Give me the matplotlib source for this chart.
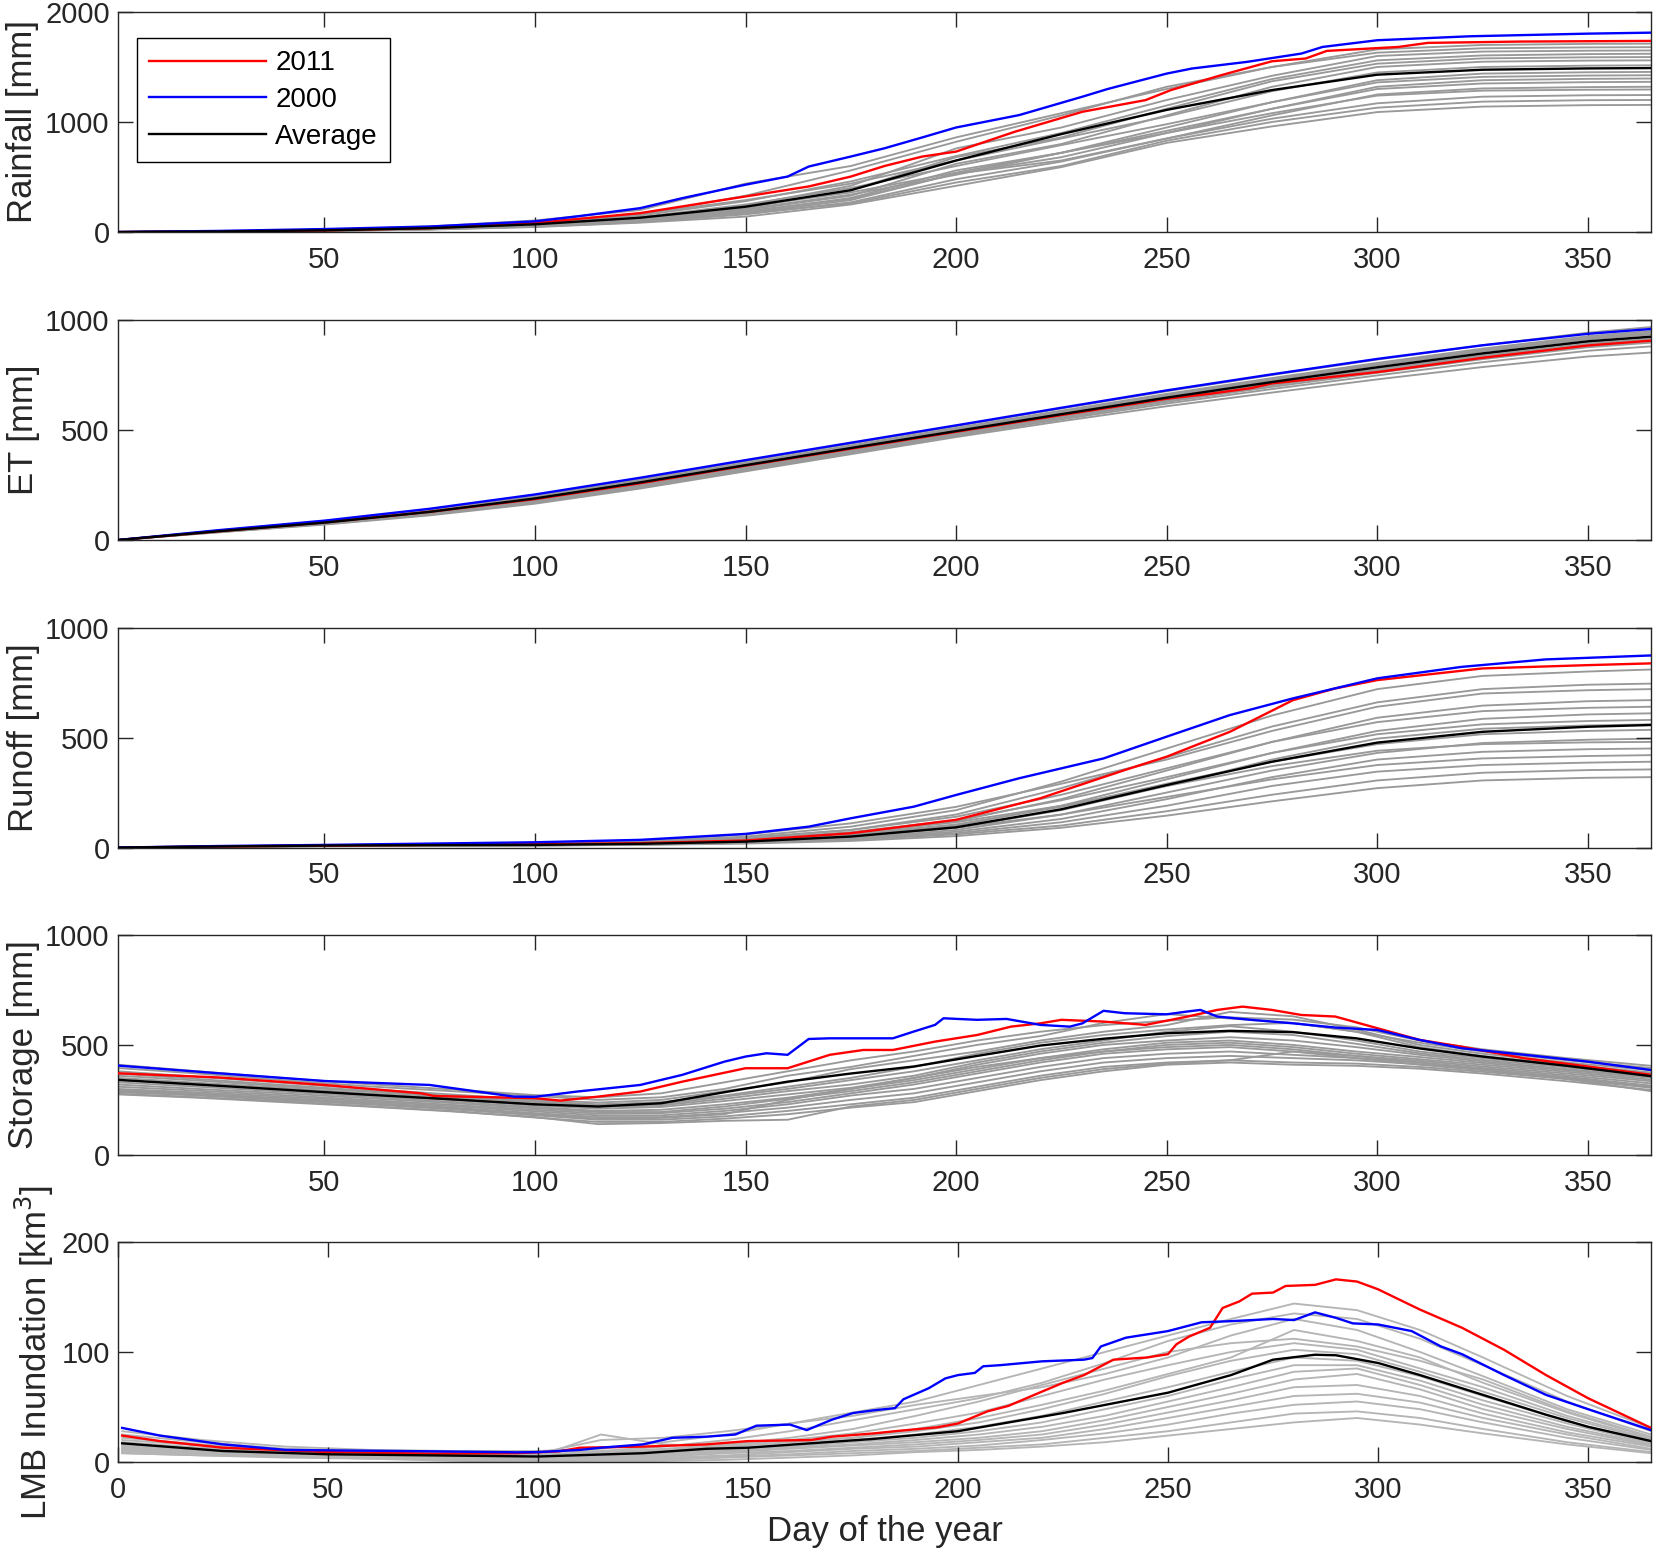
import matplotlib
matplotlib.use('Agg')
import matplotlib.pyplot as plt

plt.rcParams['font.family'] = ['Liberation Sans', 'DejaVu Sans']

# sample days for the gray (other years) curves
days_g = [1, 25, 50, 75, 100, 125, 150, 175, 200, 225, 250, 275, 300, 325, 350, 365]
days_s = [1, 20, 40, 60, 80, 100, 115, 130, 145, 160, 175, 190, 205, 220, 235, 250, 265, 280, 295, 310, 325, 345, 365]

# ---------------- Rainfall ----------------
rain_gray = [
    [0, 8, 22, 50, 105, 200, 440, 600, 860, 1080, 1300, 1500, 1660, 1700, 1710, 1712],
    [0, 5, 18, 40, 85, 160, 330, 560, 820, 1060, 1320, 1500, 1630, 1670, 1678, 1680],
    [0, 6, 15, 35, 70, 130, 240, 420, 760, 950, 1200, 1420, 1600, 1640, 1648, 1650],
    [0, 4, 12, 30, 80, 150, 280, 460, 690, 900, 1150, 1390, 1560, 1605, 1617, 1620],
    [0, 6, 18, 38, 65, 120, 220, 380, 680, 860, 1120, 1370, 1530, 1578, 1588, 1590],
    [0, 5, 14, 32, 60, 110, 200, 330, 620, 800, 1060, 1320, 1500, 1548, 1558, 1560],
    [0, 7, 20, 42, 90, 165, 290, 440, 650, 850, 1050, 1280, 1450, 1500, 1512, 1515],
    [0, 4, 12, 28, 55, 100, 180, 310, 560, 720, 950, 1180, 1380, 1440, 1452, 1455],
    [0, 5, 15, 35, 70, 135, 250, 400, 600, 790, 980, 1180, 1360, 1410, 1422, 1425],
    [0, 3, 10, 25, 50, 95, 170, 290, 530, 680, 900, 1120, 1320, 1380, 1392, 1395],
    [0, 5, 14, 32, 62, 115, 210, 340, 520, 720, 920, 1120, 1300, 1350, 1362, 1365],
    [0, 4, 12, 28, 58, 105, 190, 300, 530, 650, 850, 1060, 1250, 1305, 1317, 1320],
    [0, 6, 16, 36, 72, 130, 230, 360, 540, 720, 900, 1080, 1240, 1285, 1293, 1295],
    [0, 3, 10, 24, 48, 90, 160, 270, 480, 640, 850, 1030, 1170, 1230, 1243, 1245],
    [0, 4, 12, 26, 52, 95, 170, 260, 450, 600, 830, 1000, 1130, 1185, 1198, 1200],
    [0, 3, 9, 22, 45, 85, 140, 250, 420, 590, 810, 960, 1090, 1140, 1153, 1155],
]
rain_avg = [0, 5, 15, 35, 70, 130, 230, 380, 650, 890, 1110, 1290, 1430, 1475, 1487, 1490]
rain_2000_d = [1, 25, 50, 75, 100, 110, 125, 135, 150, 160, 165, 175, 183, 192, 200, 215, 230, 236, 250,
               256, 269, 282, 287, 300, 322, 350, 365]
rain_2000 = [0, 10, 27, 50, 97, 142, 217, 308, 430, 504, 595, 686, 761, 860, 950, 1063, 1230, 1300, 1440,
             1486, 1546, 1622, 1682, 1743, 1779, 1803, 1812]
rain_2011_d = [1, 25, 50, 75, 100, 125, 140, 150, 165, 175, 183, 192, 200, 214, 230, 245, 251, 263, 275,
               283, 288, 305, 312, 334, 365]
rain_2011 = [0, 5, 15, 35, 82, 172, 263, 323, 414, 504, 600, 686, 731, 912, 1093, 1199, 1290, 1426, 1552,
             1577, 1646, 1682, 1719, 1731, 1737]

# ---------------- ET ----------------
et_gray = [
    [0, 44, 86, 138, 202, 278, 358, 438, 518, 598, 676, 750, 820, 885, 942, 968],
    [0, 42, 83, 134, 197, 272, 350, 430, 510, 588, 664, 736, 805, 870, 926, 950],
    [0, 41, 81, 130, 192, 266, 345, 424, 502, 580, 656, 728, 796, 860, 915, 938],
    [0, 39, 77, 124, 184, 256, 334, 412, 490, 566, 640, 710, 776, 838, 892, 914],
    [0, 38, 75, 120, 178, 250, 328, 406, 484, 560, 634, 703, 768, 830, 884, 905],
    [0, 36, 72, 115, 172, 244, 322, 400, 478, 554, 628, 696, 760, 822, 876, 897],
    [0, 37, 74, 118, 170, 238, 316, 396, 474, 548, 620, 686, 748, 808, 860, 880],
    [0, 35, 70, 112, 165, 234, 312, 390, 468, 540, 608, 670, 730, 786, 834, 852],
    [0, 40, 80, 129, 190, 264, 343, 421, 500, 578, 654, 726, 794, 857, 912, 934],
    [0, 39, 78, 126, 186, 259, 337, 415, 493, 570, 645, 716, 783, 846, 900, 922],
    [0, 43, 84, 135, 198, 270, 348, 426, 504, 582, 660, 732, 800, 864, 920, 943],
    [0, 38, 76, 122, 181, 253, 331, 410, 488, 564, 638, 708, 774, 836, 890, 912],
]
et_avg = [0, 40, 79, 128, 189, 262, 340, 418, 495, 572, 647, 718, 785, 848, 903, 924]
et_2000_d = days_g
et_2000 = [0, 45, 88, 142, 207, 283, 363, 442, 521, 601, 680, 753, 823, 885, 937, 959]
et_2011_d = [1, 25, 50, 75, 100, 125, 150, 175, 200, 225, 250, 260, 270, 275, 300, 325, 350, 365]
et_2011 = [0, 40, 80, 128, 186, 258, 338, 415, 492, 568, 642, 664, 690, 712, 763, 828, 884, 906]

# ---------------- Runoff ----------------
ro_gray = [
    [0, 5, 10, 14, 18, 28, 50, 95, 170, 300, 450, 600, 720, 780, 800, 809],
    [0, 5, 10, 13, 16, 24, 42, 80, 150, 270, 410, 550, 660, 720, 740, 745],
    [0, 6, 11, 15, 20, 32, 60, 110, 185, 290, 400, 530, 640, 700, 715, 720],
    [0, 4, 8, 11, 13, 20, 35, 65, 120, 220, 350, 480, 590, 645, 665, 670],
    [0, 5, 9, 12, 15, 25, 45, 80, 140, 240, 360, 480, 570, 620, 635, 640],
    [0, 4, 8, 10, 12, 18, 30, 55, 100, 190, 310, 430, 530, 585, 605, 610],
    [0, 5, 9, 12, 14, 22, 38, 70, 125, 215, 320, 430, 515, 560, 575, 580],
    [0, 4, 8, 10, 11, 16, 26, 48, 90, 170, 280, 400, 495, 540, 555, 560],
    [0, 5, 9, 11, 13, 20, 34, 60, 105, 185, 290, 390, 470, 515, 530, 535],
    [0, 4, 7, 9, 11, 15, 24, 42, 80, 150, 250, 350, 430, 475, 490, 495],
    [0, 5, 9, 12, 14, 21, 36, 65, 115, 190, 280, 370, 440, 470, 478, 480],
    [0, 4, 7, 9, 10, 14, 22, 40, 72, 130, 220, 320, 400, 435, 447, 450],
    [0, 4, 8, 10, 12, 18, 30, 52, 90, 150, 230, 310, 375, 405, 416, 420],
    [0, 4, 7, 9, 10, 14, 22, 38, 65, 115, 190, 280, 345, 375, 386, 390],
    [0, 3, 6, 8, 9, 13, 20, 35, 60, 100, 165, 240, 305, 340, 352, 355],
    [0, 3, 6, 8, 9, 12, 18, 30, 52, 90, 145, 210, 270, 305, 317, 320],
]
ro_avg = [0, 5, 9, 11, 12, 17, 27, 50, 92, 174, 284, 390, 477, 526, 549, 557]
ro_2000_d = [1, 25, 50, 75, 100, 125, 150, 165, 175, 190, 200, 215, 235, 250, 265, 280, 300, 320, 340, 365]
ro_2000 = [0, 7, 12, 18, 24, 35, 62, 95, 133, 186, 239, 315, 405, 504, 602, 678, 769, 821, 855, 873]
ro_2011_d = [1, 25, 50, 75, 100, 125, 150, 175, 200, 220, 240, 250, 265, 280, 290, 300, 325, 350, 365]
ro_2011 = [0, 5, 9, 12, 15, 20, 32, 65, 126, 224, 352, 413, 526, 670, 723, 761, 814, 829, 837]

# ---------------- Storage ----------------
st_gray = [
    [410, 380, 350, 322, 298, 272, 262, 280, 330, 380, 430, 470, 520, 560, 590, 610, 625, 615, 580, 520, 480, 440, 405],
    [395, 370, 340, 312, 290, 268, 250, 262, 300, 360, 400, 450, 500, 540, 600, 640, 620, 600, 560, 510, 470, 430, 395],
    [380, 355, 328, 300, 275, 250, 238, 250, 290, 330, 390, 430, 470, 520, 560, 590, 650, 630, 570, 500, 460, 420, 385],
    [370, 345, 318, 292, 268, 245, 230, 240, 270, 310, 350, 400, 460, 510, 545, 570, 590, 600, 560, 490, 450, 410, 375],
    [360, 338, 312, 288, 262, 240, 225, 230, 265, 300, 340, 380, 430, 480, 520, 560, 585, 560, 520, 470, 440, 405, 370],
    [350, 328, 305, 280, 256, 232, 218, 225, 255, 290, 320, 360, 420, 470, 510, 540, 560, 545, 505, 462, 432, 398, 362],
    [340, 318, 296, 272, 250, 225, 210, 218, 245, 275, 305, 350, 410, 460, 500, 520, 535, 520, 490, 455, 425, 390, 355],
    [330, 310, 288, 265, 242, 218, 200, 205, 230, 260, 300, 340, 390, 440, 480, 510, 520, 500, 470, 445, 418, 385, 350],
    [320, 300, 280, 258, 236, 212, 195, 195, 220, 255, 290, 330, 380, 430, 470, 500, 510, 490, 460, 435, 410, 378, 342],
    [310, 292, 272, 250, 228, 205, 188, 190, 210, 240, 280, 320, 370, 420, 460, 480, 490, 470, 450, 428, 402, 370, 335],
    [300, 284, 265, 244, 222, 198, 180, 180, 200, 230, 270, 300, 350, 400, 440, 460, 470, 455, 440, 420, 395, 362, 325],
    [295, 278, 258, 238, 215, 190, 172, 172, 190, 215, 250, 280, 330, 380, 420, 440, 450, 440, 430, 412, 388, 355, 315],
    [285, 270, 250, 230, 208, 180, 160, 160, 175, 200, 230, 260, 310, 360, 400, 420, 430, 420, 415, 400, 378, 345, 305],
    [278, 262, 244, 222, 200, 170, 150, 150, 165, 185, 215, 240, 290, 340, 380, 410, 420, 410, 405, 392, 370, 335, 295],
    [290, 274, 255, 235, 212, 185, 165, 168, 185, 250, 300, 350, 400, 440, 470, 490, 500, 480, 450, 420, 390, 350, 310],
    [275, 260, 240, 220, 198, 172, 140, 145, 155, 160, 220, 250, 300, 350, 390, 415, 430, 470, 440, 410, 385, 345, 290],
]
st_avg = [341, 320, 297, 274, 253, 230, 220, 235, 285, 333, 370, 402, 450, 497, 528, 553, 564, 558, 530, 484, 447, 405, 358]
st_2000_d = [1, 25, 50, 75, 95, 100, 110, 125, 135, 145, 150, 155, 160, 165, 170, 182, 185, 190, 195, 197,
             205, 212, 220, 227, 230, 235, 240, 250, 255, 258, 262, 270, 280, 290, 300, 310, 320, 335, 350, 365]
st_2000 = [406, 371, 336, 318, 265, 264, 288, 318, 364, 424, 447, 462, 455, 527, 530, 530, 530, 561, 591, 621,
           614, 618, 591, 583, 598, 655, 644, 639, 652, 659, 629, 614, 598, 579, 568, 523, 485, 455, 424, 386]
st_2011_d = [1, 25, 50, 73, 76, 100, 106, 115, 125, 135, 150, 160, 170, 178, 185, 195, 205, 213, 220, 225,
             235, 245, 255, 262, 268, 275, 282, 290, 300, 310, 320, 335, 350, 365]
st_2011 = [371, 352, 318, 280, 268, 258, 247, 265, 288, 333, 394, 394, 455, 477, 477, 515, 545, 583, 598, 614,
           606, 591, 629, 659, 674, 659, 636, 629, 576, 523, 492, 439, 402, 364]

# ---------------- LMB inundation ----------------
lmb_gray = [
    [28, 20, 14, 11, 10, 10, 12, 18, 25, 35, 45, 55, 70, 85, 100, 115, 130, 144, 138, 120, 95, 60, 31],
    [25, 18, 12, 10, 9, 9, 10, 14, 20, 28, 38, 48, 58, 72, 90, 110, 125, 135, 130, 112, 88, 55, 28],
    [22, 16, 11, 9, 8, 8, 20, 22, 28, 35, 42, 52, 60, 68, 80, 95, 115, 130, 120, 100, 78, 48, 25],
    [20, 15, 10, 8, 7, 7, 9, 12, 16, 22, 30, 42, 55, 70, 85, 100, 108, 112, 105, 92, 75, 46, 23],
    [18, 13, 9, 7, 6, 6, 8, 11, 15, 20, 26, 35, 45, 60, 75, 88, 100, 108, 102, 85, 68, 42, 21],
    [16, 12, 8, 7, 6, 5, 7, 10, 14, 18, 22, 28, 36, 48, 62, 78, 92, 102, 98, 82, 64, 40, 20],
    [15, 11, 8, 6, 5, 5, 6, 9, 12, 16, 20, 25, 32, 42, 55, 68, 82, 95, 92, 78, 60, 37, 18],
    [14, 10, 7, 6, 5, 4, 5, 8, 11, 14, 18, 22, 28, 36, 48, 60, 75, 88, 88, 74, 56, 35, 17],
    [13, 10, 7, 5, 4, 4, 5, 7, 10, 13, 16, 20, 25, 32, 42, 55, 68, 82, 85, 70, 52, 32, 16],
    [12, 9, 6, 5, 4, 3, 4, 6, 9, 12, 15, 18, 22, 28, 38, 50, 62, 75, 80, 66, 48, 30, 15],
    [11, 8, 6, 5, 4, 3, 4, 5, 8, 10, 13, 16, 20, 25, 34, 45, 56, 68, 70, 60, 44, 27, 14],
    [10, 8, 6, 4, 3, 2, 3, 4, 6, 9, 12, 14, 18, 22, 30, 40, 50, 60, 62, 54, 40, 25, 12],
    [9, 7, 5, 4, 3, 2, 2, 3, 5, 7, 10, 12, 15, 20, 26, 34, 44, 52, 55, 48, 36, 22, 11],
    [8, 6, 5, 3, 2, 1, 1, 2, 4, 6, 8, 10, 13, 16, 22, 28, 36, 44, 46, 40, 30, 18, 9],
    [8, 6, 4, 3, 1, 0, 0, 1, 2, 4, 6, 9, 11, 14, 18, 24, 30, 36, 40, 34, 26, 16, 8],
    [12, 9, 7, 6, 5, 5, 25, 16, 14, 18, 22, 30, 40, 52, 65, 80, 95, 120, 110, 95, 72, 45, 22],
]
lmb_avg_d = [1, 25, 50, 75, 100, 125, 140, 150, 165, 180, 200, 225, 250, 265, 275, 285, 290, 300, 310, 325,
             340, 350, 365]
lmb_avg = [17, 10, 7, 6, 5, 8, 12, 13, 17, 21, 28, 44.5, 63, 79, 93, 97.5, 97, 90, 79, 61, 43, 32, 19]
lmb_2000_d = [1, 10, 25, 40, 50, 75, 95, 100, 110, 115, 125, 132, 140, 147, 152, 160, 164, 170, 175, 180,
              185, 187, 193, 197, 200, 204, 206, 210, 220, 230, 232, 234, 240, 250, 258, 265, 275, 280, 285,
              290, 294, 300, 308, 315, 320, 330, 340, 350, 365]
lmb_2000 = [31, 24, 16, 11, 10.6, 9.7, 8.8, 9, 11, 13, 16, 22, 23, 25, 33, 34, 29, 38.5, 44.5, 47,
            49, 57, 67, 76, 79, 81, 87, 88, 91.5, 93, 94.5, 105, 113, 119, 127, 128, 130, 129, 136,
            131, 126, 125, 119, 105, 98, 79, 61, 48, 29]
lmb_2011_d = [1, 10, 25, 50, 75, 95, 105, 110, 125, 140, 150, 165, 170, 180, 185, 195, 200, 207, 212, 220,
              225, 230, 237, 245, 250, 252, 255, 260, 263, 267, 270, 275, 278, 285, 290, 295, 300, 310, 320,
              330, 340, 350, 365]
lmb_2011 = [24, 19, 13, 9, 7.6, 8, 9.7, 13, 14, 16, 19, 20, 23, 26, 28, 31.5, 35, 46, 51, 64,
            72, 79, 93, 95, 98, 107, 114, 122, 140, 146, 153, 154, 160, 161, 166, 164, 157, 138.5, 122,
            102, 79, 58, 31]

y_labels = ['Rainfall [mm]', 'ET [mm]', 'Runoff [mm]', 'Storage [mm]', 'LMB Inundation [km$^3$]']
y_ticks = [[0, 1000, 2000], [0, 500, 1000], [0, 500, 1000], [0, 500, 1000], [0, 100, 200]]
legend_labels = ['2011', '2000', 'Average']


def draw_panel(ax, gdays, grows, gcolor, adays, avg, d00, v00, d11, v11):
    for row in grows:
        ax.plot(gdays, row, color=gcolor, lw=1.35, zorder=1)
    ax.plot(d11, v11, color='#ff0000', lw=1.7, zorder=3, label=legend_labels[0])
    ax.plot(d00, v00, color='#0000ff', lw=1.7, zorder=3, label=legend_labels[1])
    ax.plot(adays, avg, color='k', lw=1.7, zorder=4, label=legend_labels[2])


fig = plt.figure(figsize=(16.57, 15.54), dpi=100)
bottoms = [0.8507, 0.6525, 0.4546, 0.2568, 0.0592]
axes = [fig.add_axes([0.0712, b, 0.9252, 0.1416]) for b in bottoms]

draw_panel(axes[0], days_g, rain_gray, '#999999', days_g, rain_avg, rain_2000_d, rain_2000, rain_2011_d, rain_2011)
draw_panel(axes[1], days_g, et_gray, '#999999', days_g, et_avg, et_2000_d, et_2000, et_2011_d, et_2011)
draw_panel(axes[2], days_g, ro_gray, '#999999', days_g, ro_avg, ro_2000_d, ro_2000, ro_2011_d, ro_2011)
draw_panel(axes[3], days_s, st_gray, '#999999', days_s, st_avg, st_2000_d, st_2000, st_2011_d, st_2011)
draw_panel(axes[4], days_s, lmb_gray, '#b5b5b5', lmb_avg_d, lmb_avg, lmb_2000_d, lmb_2000, lmb_2011_d, lmb_2011)

for i, ax in enumerate(axes):
    ax.set_ylim(y_ticks[i][0], y_ticks[i][-1])
    ax.set_yticks(y_ticks[i])
    if i < 4:
        ax.set_xlim(1, 365)
        ax.set_xticks([50, 100, 150, 200, 250, 300, 350])
    else:
        ax.set_xlim(0, 365)
        ax.set_xticks([0, 50, 100, 150, 200, 250, 300, 350])
    ax.tick_params(direction='in', length=11, width=1, top=True, right=True,
                   labelsize=21, color='#262626', labelcolor='#262626')
    ax.tick_params(axis='x', pad=10)
    ax.tick_params(axis='y', pad=6)
    for s in ax.spines.values():
        s.set_color('#262626')
        s.set_linewidth(1.0)
    ax.set_ylabel(y_labels[i], fontsize=25, color='#262626', labelpad=4)

axes[4].set_xlabel('Day of the year', fontsize=25, color='#262626', labelpad=8)

leg = axes[0].legend(loc='upper left', bbox_to_anchor=(0.0124, 0.882), borderaxespad=0,
                     fontsize=20, handlelength=4.2, handletextpad=0.33, labelspacing=0.38,
                     fancybox=False, edgecolor='k', framealpha=1, borderpad=0.45)
leg.get_frame().set_linewidth(1.0)

fig.savefig('out.png', dpi=100)
